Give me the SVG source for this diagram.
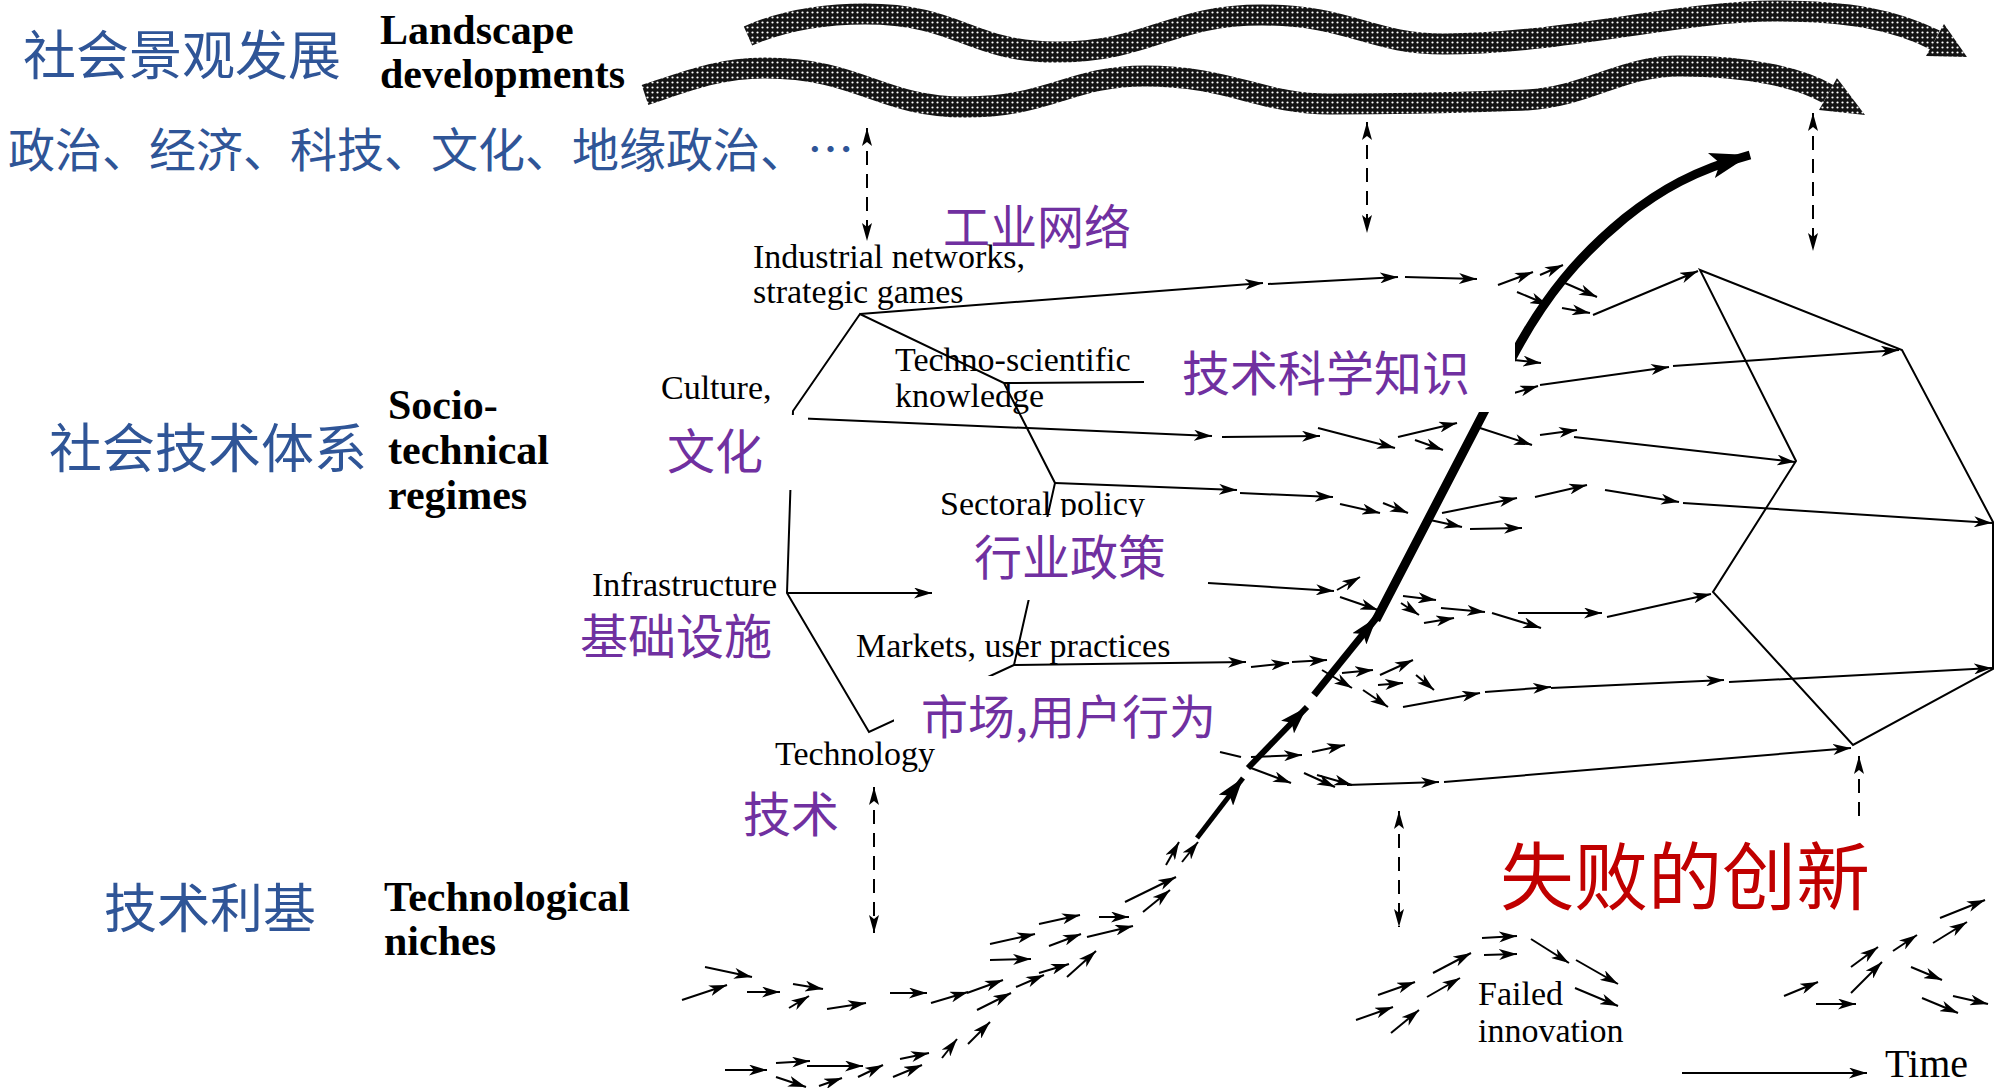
<svg xmlns="http://www.w3.org/2000/svg" width="1997" height="1088" viewBox="0 0 1997 1088">
<defs>
<style>
.en{font-family:"Liberation Serif","Times New Roman",serif;fill:#000}
.r{font-size:34px}
.b{font-size:42px;font-weight:bold}
.cn{font-family:"Noto Sans CJK SC","Noto Sans",sans-serif}
.blue{fill:#2F5597}
.pur{fill:#7030A0}
.red{fill:#C00000}
.ln{fill:none;stroke:#000;stroke-width:2}
.ar{marker-end:url(#a)}
.hx{fill:none;stroke:#000;stroke-width:2;stroke-linejoin:miter}
.dsh{fill:none;stroke:#000;stroke-width:2;stroke-dasharray:14 9}
.box{fill:#fff}
.band{fill:none;stroke:url(#hatch);stroke-width:21;stroke-linecap:butt}
</style>
<pattern id="hatch" width="5" height="5" patternUnits="userSpaceOnUse">
<rect width="5" height="5" fill="#141414"/>
<circle cx="2.5" cy="2.5" r="1.1" fill="#fff"/>
</pattern>
<marker id="a" viewBox="0 0 18 11" refX="18" refY="5.5" markerWidth="18" markerHeight="11" markerUnits="userSpaceOnUse" orient="auto">
<path d="M0,0 L18,5.5 L0,11 L5,5.5 z" fill="#000"/>
</marker>
<marker id="d" viewBox="0 0 18 10" refX="18" refY="5" markerWidth="18" markerHeight="10" markerUnits="userSpaceOnUse" orient="auto-start-reverse">
<path d="M0,0 L18,5 L0,10 L4,5 z" fill="#000"/>
</marker>
<marker id="t" viewBox="0 0 28 18" refX="28" refY="9" markerWidth="28" markerHeight="18" markerUnits="userSpaceOnUse" orient="auto">
<path d="M0,0 L28,9 L0,18 L6,9 z" fill="#000"/>
</marker>
<marker id="T" viewBox="0 0 40 26" refX="40" refY="13" markerWidth="40" markerHeight="26" markerUnits="userSpaceOnUse" orient="auto">
<path d="M0,0 L40,13 L0,26 L9,13 z" fill="#000"/>
</marker>
</defs>
<rect width="1997" height="1088" fill="#fff"/>

<g id="landscape-bands">
<path class="band" d="M748 36 C780 22,820 14,865 14 C960 14,970 52,1056 52 C1150 52,1170 15,1262 15 C1350 15,1370 44,1444 44 C1560 44,1680 11,1775 11 C1850 11,1895 20,1935 40"/>
<polygon points="1926,56 1944,24 1967,57" fill="url(#hatch)"/>
<path class="band" d="M645 95 C690 80,720 68,765 68 C860 68,880 107,965 107 C1050 107,1070 76,1145 76 C1230 76,1260 104,1330 104 C1430 104,1470 102,1527 100 C1590 96,1620 66,1680 66 C1750 66,1800 78,1828 94"/>
<polygon points="1819,110 1837,78 1865,115" fill="url(#hatch)"/>
</g>

<g id="connectors">
<g id="dashed-links">
<path class="dsh" d="M867 128 L867 241" marker-start="url(#d)" marker-end="url(#d)"/>
<path class="dsh" d="M1367 122 L1367 233" marker-start="url(#d)" marker-end="url(#d)"/>
<path class="dsh" d="M1813 113 L1813 251" marker-start="url(#d)" marker-end="url(#d)"/>
<path class="dsh" d="M874 787 L874 933" marker-start="url(#d)" marker-end="url(#d)"/>
<path class="dsh" d="M1399 811 L1399 927" marker-start="url(#d)" marker-end="url(#d)"/>
<path class="dsh" d="M1859 756 L1859 818" marker-start="url(#d)"/>
</g>
<g id="regime-early">
<path class="hx" d="M860 314 L793 411 L787 593 L869 732 L1014 665 L1055 483 L1004 383 Z"/>
</g>
<g id="regime-late">
<path class="hx" d="M1700 270 L1902 350 L1993 522 L1993 669 L1853 745 L1713 592 L1796 461 Z"/>
</g>
<g id="regime-flows" class="ln">
<path class="ar" d="M860 314 L1263 283"/>
<path class="ar" d="M1268 284 L1398 277"/>
<path class="ar" d="M1405 277 L1477 279"/>
<path class="ar" d="M1498 285 L1533 272"/>
<path class="ar" d="M1540 275 L1563 265"/>
<path class="ar" d="M1517 292 L1548 305"/>
<path class="ar" d="M1558 280 L1597 297"/>
<path class="ar" d="M1562 308 L1590 313"/>
<path class="ar" d="M1593 315 L1698 271"/>
<path d="M1004 383 L1144 382"/>
<path class="ar" d="M1514 360 L1541 363"/>
<path class="ar" d="M1514 393 L1538 386"/>
<path class="ar" d="M1540 385 L1669 367"/>
<path class="ar" d="M1673 366 L1899 350"/>
<path class="ar" d="M793 418 L1212 436"/>
<path class="ar" d="M1222 437 L1320 436"/>
<path class="ar" d="M1318 428 L1395 448"/>
<path class="ar" d="M1398 437 L1457 423"/>
<path class="ar" d="M1415 440 L1443 450"/>
<path class="ar" d="M1480 428 L1532 445"/>
<path class="ar" d="M1540 435 L1577 430"/>
<path class="ar" d="M1574 437 L1795 462"/>
<path class="ar" d="M1055 483 L1237 490"/>
<path class="ar" d="M1240 493 L1333 497"/>
<path class="ar" d="M1340 504 L1380 513"/>
<path class="ar" d="M1383 503 L1408 513"/>
<path class="ar" d="M1442 513 L1517 498"/>
<path class="ar" d="M1535 497 L1587 485"/>
<path class="ar" d="M1430 520 L1462 527"/>
<path class="ar" d="M1470 529 L1522 528"/>
<path class="ar" d="M1605 490 L1679 502"/>
<path class="ar" d="M1683 503 L1992 523"/>
<path class="ar" d="M787 593 L932 593"/>
<path class="ar" d="M1208 583 L1334 591"/>
<path class="ar" d="M1337 590 L1360 577"/>
<path class="ar" d="M1340 597 L1378 610"/>
<path class="ar" d="M1403 596 L1436 600"/>
<path class="ar" d="M1401 603 L1419 615"/>
<path class="ar" d="M1441 608 L1485 612"/>
<path class="ar" d="M1424 623 L1454 618"/>
<path class="ar" d="M1492 613 L1541 628"/>
<path class="ar" d="M1518 613 L1602 613"/>
<path class="ar" d="M1607 617 L1711 594"/>
<path class="ar" d="M1014 665 L1246 662"/>
<path class="ar" d="M1251 667 L1289 663"/>
<path class="ar" d="M1292 662 L1327 660"/>
<path class="ar" d="M1322 670 L1352 688"/>
<path class="ar" d="M1342 673 L1373 670"/>
<path class="ar" d="M1380 675 L1413 660"/>
<path class="ar" d="M1378 685 L1403 683"/>
<path class="ar" d="M1416 675 L1434 690"/>
<path class="ar" d="M1363 690 L1388 707"/>
<path class="ar" d="M1403 707 L1480 693"/>
<path class="ar" d="M1485 692 L1551 687"/>
<path class="ar" d="M1551 688 L1724 680"/>
<path class="ar" d="M1729 682 L1992 668"/>
<path d="M1220 752 L1241 757"/>
<path class="ar" d="M1251 757 L1302 755"/>
<path class="ar" d="M1312 752 L1345 745"/>
<path class="ar" d="M1251 768 L1291 783"/>
<path class="ar" d="M1304 773 L1335 787"/>
<path class="ar" d="M1317 775 L1352 785"/>
<path class="ar" d="M1347 785 L1439 782"/>
<path class="ar" d="M1444 782 L1851 748"/>
</g>
<g id="trajectory" fill="none" stroke="#000">
<path d="M1197 838 L1243 778" stroke-width="5" marker-end="url(#t)"/>
<path d="M1248 768 L1307 707" stroke-width="6" marker-end="url(#t)"/>
<path d="M1314 695 L1377 617" stroke-width="7" marker-end="url(#t)"/>
<path d="M1376 620 L1511 360 C1545 295,1580 255,1625 218 C1660 190,1695 170,1750 155" stroke-width="9" marker-end="url(#T)"/>
</g>
<g id="niche-flows" class="ln">
<path class="ar" d="M682 1000 L727 985"/>
<path class="ar" d="M705 967 L752 977"/>
<path class="ar" d="M747 992 L780 992"/>
<path class="ar" d="M793 984 L823 989"/>
<path class="ar" d="M789 1008 L809 996"/>
<path class="ar" d="M827 1009 L866 1003"/>
<path class="ar" d="M890 993 L927 993"/>
<path class="ar" d="M931 1003 L968 992"/>
<path class="ar" d="M967 993 L1003 980"/>
<path class="ar" d="M977 1010 L1011 993"/>
<path class="ar" d="M990 944 L1035 934"/>
<path class="ar" d="M990 960 L1031 959"/>
<path class="ar" d="M1016 987 L1044 975"/>
<path class="ar" d="M1039 973 L1069 964"/>
<path class="ar" d="M1067 977 L1096 951"/>
<path class="ar" d="M1049 946 L1081 934"/>
<path class="ar" d="M1039 924 L1080 915"/>
<path class="ar" d="M1087 937 L1133 926"/>
<path class="ar" d="M1099 917 L1129 917"/>
<path class="ar" d="M1125 902 L1176 877"/>
<path class="ar" d="M1143 912 L1170 890"/>
<path class="ar" d="M1166 865 L1179 842"/>
<path class="ar" d="M1182 862 L1198 842"/>
<path class="ar" d="M725 1070 L767 1070"/>
<path class="ar" d="M776 1063 L810 1061"/>
<path class="ar" d="M807 1066 L863 1066"/>
<path class="ar" d="M776 1077 L806 1087"/>
<path class="ar" d="M819 1086 L842 1078"/>
<path class="ar" d="M858 1077 L883 1065"/>
<path class="ar" d="M893 1077 L922 1065"/>
<path class="ar" d="M900 1059 L929 1053"/>
<path class="ar" d="M942 1058 L957 1039"/>
<path class="ar" d="M968 1044 L990 1022"/>
<path class="ar" d="M1356 1020 L1393 1007"/>
<path class="ar" d="M1391 1033 L1419 1010"/>
<path class="ar" d="M1378 995 L1415 982"/>
<path class="ar" d="M1427 997 L1460 978"/>
<path class="ar" d="M1433 973 L1471 953"/>
<path class="ar" d="M1482 938 L1517 936"/>
<path class="ar" d="M1484 955 L1517 954"/>
<path class="ar" d="M1531 939 L1569 963"/>
<path class="ar" d="M1576 960 L1618 984"/>
<path class="ar" d="M1575 988 L1618 1006"/>
<path class="ar" d="M1784 996 L1818 982"/>
<path class="ar" d="M1816 1004 L1856 1004"/>
<path class="ar" d="M1851 967 L1878 947"/>
<path class="ar" d="M1851 993 L1882 962"/>
<path class="ar" d="M1893 951 L1917 935"/>
<path class="ar" d="M1933 943 L1967 922"/>
<path class="ar" d="M1940 918 L1985 900"/>
<path class="ar" d="M1911 967 L1942 980"/>
<path class="ar" d="M1922 998 L1958 1013"/>
<path class="ar" d="M1953 996 L1988 1004"/>
</g>
<g id="time-axis">
<path class="ln ar" d="M1682 1073 L1867 1073"/>
</g>
</g>

<g id="level-labels">
<g id="landscape-label">
<text class="cn blue" x="23" y="75" font-size="53">社会景观发展</text>
<text class="en b" x="380" y="44">Landscape</text>
<text class="en b" x="380" y="88">developments</text>
<text class="cn blue" x="8" y="167" font-size="47">政治、经济、科技、文化、地缘政治、…</text>
</g>
<g id="regime-label">
<text class="cn blue" x="49" y="468" font-size="53">社会技术体系</text>
<text class="en b" x="388" y="419">Socio-</text>
<text class="en b" x="388" y="464">technical</text>
<text class="en b" x="388" y="509">regimes</text>
</g>
<g id="niche-label">
<text class="cn blue" x="104" y="928" font-size="53">技术利基</text>
<text class="en b" x="384" y="911">Technological</text>
<text class="en b" x="384" y="955">niches</text>
</g>
</g>

<g id="node-industrial">
<text class="en r" x="753" y="268">Industrial networks,</text>
<text class="en r" x="753" y="303">strategic games</text>
<text class="cn pur" x="943" y="244" font-size="47">工业网络</text>
</g>
<g id="node-techno-en">
<text class="en r" x="895" y="371">Techno-scientific</text>
<text class="en r" x="895" y="407">knowledge</text>
</g>
<g id="node-culture-en"><text class="en r" x="661" y="399">Culture,</text></g>
<g id="node-sectoral-en"><text class="en r" x="940" y="515">Sectoral policy</text></g>
<g id="node-infra-en"><text class="en r" x="592" y="596">Infrastructure</text></g>
<g id="node-markets-en"><text class="en r" x="856" y="657">Markets, user practices</text></g>
<g id="node-technology-en"><text class="en r" x="775" y="765">Technology</text></g>

<g id="node-techno-cn">
<rect class="box" x="1144" y="340" width="371" height="72"/>
<text class="cn pur" x="1182" y="391" font-size="48">技术科学知识</text>
</g>
<g id="node-culture-cn">
<rect class="box" x="655" y="415" width="153" height="75"/>
<text class="cn pur" x="667" y="469" font-size="48">文化</text>
</g>
<g id="node-sectoral-cn">
<rect class="box" x="970" y="517" width="235" height="83"/>
<text class="cn pur" x="974" y="575" font-size="48">行业政策</text>
</g>
<g id="node-infra-cn">
<text class="cn pur" x="580" y="654" font-size="48">基础设施</text>
</g>
<g id="node-markets-cn">
<rect class="box" x="894" y="676" width="328" height="66"/>
<text class="cn pur" x="921" y="734" font-size="47">市场,用户行为</text>
</g>
<g id="node-technology-cn">
<text class="cn pur" x="743" y="832" font-size="48">技术</text>
</g>
<g id="node-failed">
<text class="cn red" x="1500" y="904" font-size="74">失败的创新</text>
<text class="en r" x="1478" y="1005">Failed</text>
<text class="en r" x="1478" y="1042">innovation</text>
</g>
<g id="time-label"><text class="en" x="1885" y="1077" font-size="40">Time</text></g>
</svg>
